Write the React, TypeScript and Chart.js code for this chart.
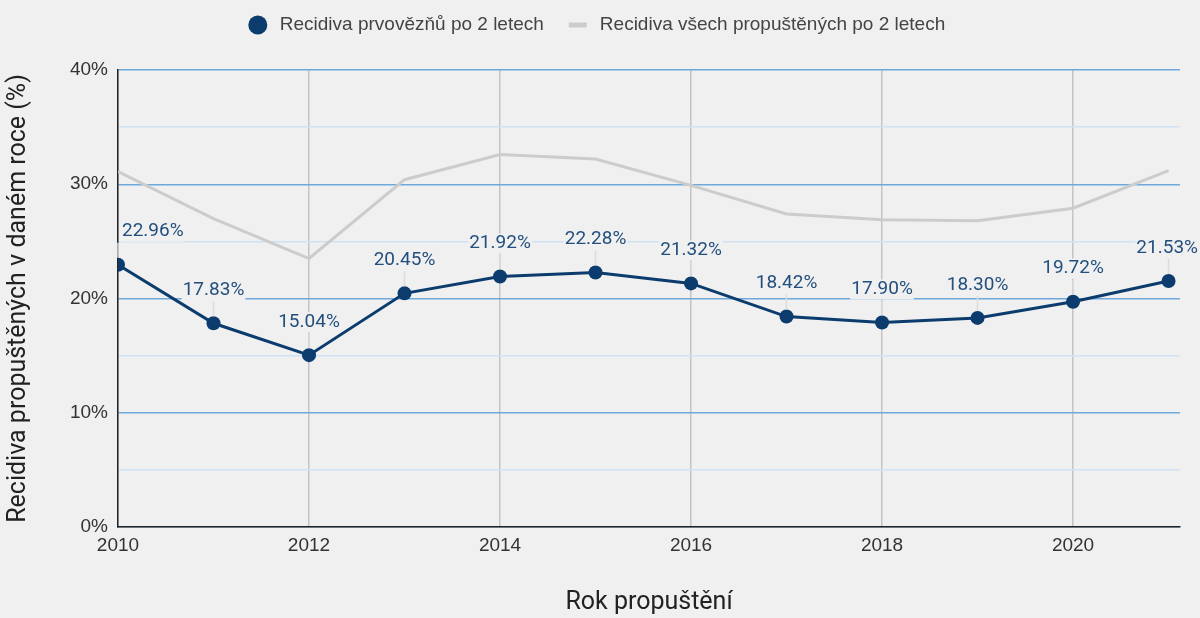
import React, { useEffect, useRef } from 'react';
import { Chart, registerables } from 'chart.js';

Chart.register(...registerables);

const years = [2010, 2011, 2012, 2013, 2014, 2015, 2016, 2017, 2018, 2019, 2020, 2021];
const firstTimeRecidivism = [22.96, 17.83, 15.04, 20.45, 21.92, 22.28, 21.32, 18.42, 17.9, 18.3, 19.72, 21.53];
const allReleasedRecidivism = [31.1, 27.0, 23.5, 30.4, 32.6, 32.2, 29.9, 27.4, 26.9, 26.8, 27.9, 31.2];
const xTickValues = [2010, 2012, 2014, 2016, 2018, 2020];
const yTickValues = [0, 5, 10, 15, 20, 25, 30, 35, 40];
const seriesNames = ['Recidiva prvovězňů po 2 letech', 'Recidiva všech propuštěných po 2 letech'];
const xTitle = 'Rok propuštění';
const yTitle = 'Recidiva propuštěných v daném roce (%)';

const BG = '#f0f0f0';
const BLUE = '#0b3c6d';
const LABEL_BLUE = '#234f7e';
const GRAY = '#cccccc';
const FONT = 'Roboto';
const SANS = '"Liberation Sans", Arial, sans-serif';

const fmt = (v: number) => v.toFixed(2) + '%';

const bgPlugin = {
  id: 'bg',
  beforeDraw(chart: any) {
    const ctx = chart.ctx;
    ctx.save();
    ctx.fillStyle = BG;
    ctx.fillRect(0, 0, chart.width, chart.height);
    ctx.restore();
  },
};

const labelsPlugin = {
  id: 'pointLabels',
  afterDatasetsDraw(chart: any) {
    const ctx = chart.ctx;
    const meta = chart.getDatasetMeta(0);
    const area = chart.chartArea;
    ctx.save();
    ctx.font = `19px ${FONT}`;
    ctx.textAlign = 'center';
    ctx.textBaseline = 'middle';
    meta.data.forEach((pt: any, i: number) => {
      const text = fmt(firstTimeRecidivism[i]);
      const w = ctx.measureText(text).width;
      let cx = pt.x;
      if (cx - w / 2 < area.left + 4) cx = area.left + 4 + w / 2;
      if (cx + w / 2 > chart.width - 2) cx = chart.width - 2 - w / 2;
      const cy = pt.y - 33;
      ctx.strokeStyle = '#dcdcdc';
      ctx.lineWidth = 1.5;
      ctx.beginPath();
      ctx.moveTo(pt.x, cy + 11);
      ctx.lineTo(pt.x, pt.y - 7);
      ctx.stroke();
      ctx.fillStyle = BG;
      ctx.fillRect(cx - w / 2 - 1, cy - 10, w + 2, 20);
      ctx.fillStyle = LABEL_BLUE;
      ctx.fillText(text, cx, cy);
    });
    ctx.restore();
  },
};

const legendPlugin = {
  id: 'customLegend',
  afterDraw(chart: any) {
    const ctx = chart.ctx;
    ctx.save();
    ctx.font = `19px ${SANS}`;
    ctx.textBaseline = 'middle';
    ctx.textAlign = 'left';
    const w1 = ctx.measureText(seriesNames[0]).width;
    const w2 = ctx.measureText(seriesNames[1]).width;
    const marker = 18;
    const gapText = 13;
    const gapItems = 25;
    const total = marker + gapText + w1 + gapItems + marker + gapText + w2;
    let x = (chart.width - total) / 2 - 3;
    const y = 25;
    ctx.fillStyle = BLUE;
    ctx.beginPath();
    ctx.arc(x + marker / 2, y, 9.5, 0, Math.PI * 2);
    ctx.fill();
    x += marker + gapText;
    ctx.fillStyle = '#444444';
    ctx.fillText(seriesNames[0], x, y);
    x += w1 + gapItems;
    ctx.fillStyle = GRAY;
    ctx.fillRect(x, y - 2.5, marker, 5);
    x += marker + gapText;
    ctx.fillStyle = '#444444';
    ctx.fillText(seriesNames[1], x, y);
    ctx.restore();
  },
};

export default function App() {
  const ref = useRef<HTMLCanvasElement>(null);

  useEffect(() => {
    document.body.style.margin = '0';
    document.body.style.background = BG;
    const canvas = ref.current;
    if (!canvas) return;
    Chart.defaults.font.family = FONT;
    const chart = new Chart(canvas, {
      type: 'line',
      data: {
        datasets: [
          {
            label: seriesNames[0],
            data: years.map((y, i) => ({ x: y, y: firstTimeRecidivism[i] })),
            borderColor: BLUE,
            backgroundColor: BLUE,
            borderWidth: 3,
            pointRadius: 7,
            pointHoverRadius: 7,
            pointBackgroundColor: BLUE,
            pointBorderWidth: 0,
            tension: 0,
            order: 0,
          },
          {
            label: seriesNames[1],
            data: years.map((y, i) => ({ x: y, y: allReleasedRecidivism[i] })),
            borderColor: GRAY,
            backgroundColor: GRAY,
            borderWidth: 3,
            pointRadius: 0,
            tension: 0,
            order: 1,
          },
        ],
      },
      options: {
        responsive: false,
        animation: false,
        devicePixelRatio: 1,
        layout: { padding: { top: 70, right: 20, left: 0, bottom: 0 } },
        plugins: {
          legend: { display: false },
          tooltip: { enabled: false },
        },
        scales: {
          x: {
            type: 'linear',
            min: 2010,
            max: 2021.12,
            afterBuildTicks(scale: any) {
              scale.ticks = xTickValues.map((v) => ({ value: v }));
            },
            afterFit(scale: any) {
              scale.height = 91;
            },
            ticks: {
              font: { size: 19, family: SANS },
              color: '#333333',
              padding: 7,
              maxRotation: 0,
              callback: (v: any) => String(v),
            },
            grid: {
              color: '#c4c4c4',
              lineWidth: 1.5,
              drawTicks: false,
            },
            border: { color: '#222222', width: 1.5 },
            title: {
              display: true,
              text: xTitle,
              font: { size: 25 },
              color: '#222222',
              padding: { top: 0, bottom: 0 },
            },
          },
          y: {
            type: 'linear',
            min: 0,
            max: 40,
            afterBuildTicks(scale: any) {
              scale.ticks = yTickValues.map((v) => ({ value: v }));
            },
            afterFit(scale: any) {
              scale.width = 118;
            },
            ticks: {
              font: { size: 19, family: SANS },
              color: '#333333',
              padding: 10,
              callback: (v: any) => (Number(v) % 10 === 0 ? v + '%' : ''),
            },
            grid: {
              color: (c: any) => (c.tick && c.tick.value % 10 === 0 ? '#6fa8dc' : '#cfe2f3'),
              lineWidth: 1.5,
              drawTicks: false,
            },
            border: { color: '#222222', width: 1.5 },
            title: {
              display: true,
              text: yTitle,
              font: { size: 25 },
              color: '#222222',
              padding: { top: 4, bottom: 0 },
            },
          },
        },
      },
      plugins: [bgPlugin, labelsPlugin, legendPlugin],
    } as any);
    return () => chart.destroy();
  }, []);

  return (
    <div style={{ width: 1200, height: 618, background: BG }}>
      <canvas ref={ref} width={1200} height={618} style={{ display: 'block' }} />
    </div>
  );
}
